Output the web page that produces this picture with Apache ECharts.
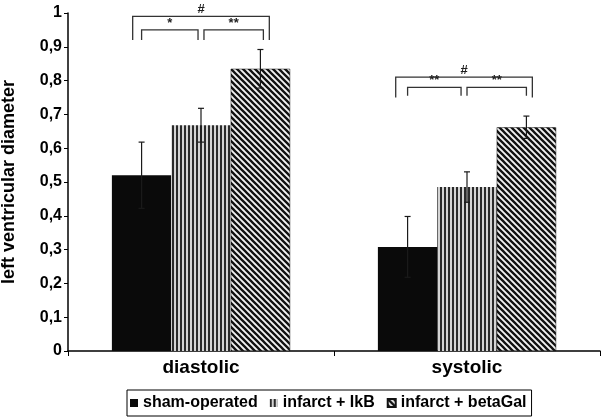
<!DOCTYPE html>
<html>
<head>
<meta charset="utf-8">
<script src="https://cdn.jsdelivr.net/npm/echarts@6/dist/echarts.min.js"></script>
<style>
  html, body { margin: 0; padding: 0; background: #fff; }
  #main { width: 603px; height: 418px; }
</style>
</head>
<body>
<div id="main"></div>
<script>
// 数据
var categories = ['diastolic', 'systolic'];
var groupNames = ['sham-operated', 'infarct + IkB', 'infarct + betaGal'];
var shamValues = [0.52, 0.308];
var shamErrors = [0.098, 0.09];
var ikbValues = [0.668, 0.485];
var ikbErrors = [0.05, 0.045];
var betagalValues = [0.835, 0.662];
var betagalErrors = [0.057, 0.033];

// 显著性标记: [类别, 高度, 起始柱, 结束柱, 标签, 腿长]
var brackets = [
  [0, 0.99, -0.15, 2.15, '#', 0.07],
  [0, 0.95, 0.0, 0.95, '*', 0.03],
  [0, 0.95, 1.05, 2.05, '**', 0.03],
  [1, 0.81, -0.2, 2.1, '#', 0.06],
  [1, 0.78, 0.0, 0.9, '**', 0.025],
  [1, 0.78, 1.0, 2.0, '**', 0.025]
];

var GAP = 0.33;
var FONT = 'Liberation Sans, Arial, sans-serif';

// 填充图案
function makeVertical() {
  var c = document.createElement('canvas');
  c.width = 4; c.height = 4;
  var ctx = c.getContext('2d');
  ctx.fillStyle = '#d4d4d4';
  ctx.fillRect(0, 0, 4, 4);
  ctx.fillStyle = '#2a2a2a';
  ctx.fillRect(0, 0, 2, 4);
  return c;
}
function makeDiagonal() {
  var s = 6;
  var c = document.createElement('canvas');
  c.width = s; c.height = s;
  var ctx = c.getContext('2d');
  ctx.fillStyle = '#f2f2f2';
  ctx.fillRect(0, 0, s, s);
  ctx.strokeStyle = '#111';
  ctx.lineWidth = 2.3;
  ctx.beginPath();
  ctx.moveTo(-s, 0); ctx.lineTo(s, 2 * s);
  ctx.moveTo(0, 0); ctx.lineTo(s, s);
  ctx.moveTo(0, -s); ctx.lineTo(2 * s, s);
  ctx.stroke();
  return c;
}
var vertPattern = { image: makeVertical(), repeat: 'repeat' };
var diagPattern = { image: makeDiagonal(), repeat: 'repeat' };

var allValues = [shamValues, ikbValues, betagalValues];
var allErrors = [shamErrors, ikbErrors, betagalErrors];

var errData = [];
for (var g = 0; g < 3; g++) {
  for (var i = 0; i < categories.length; i++) {
    errData.push([i, allValues[g][i], allErrors[g][i], g]);
  }
}

function barWidthOf(api) {
  return api.size([1, 0])[0] * (1 - GAP) / 3;
}

var myChart = echarts.init(document.getElementById('main'));

var option = {
  backgroundColor: '#fff',
  animation: false,
  textStyle: { fontFamily: FONT },
  grid: { left: 68, right: 3, top: 13, bottom: 67, containLabel: false, outerBoundsMode: 'none' },
  legend: {
    data: groupNames,
    left: 127,
    bottom: 2,
    itemWidth: 8,
    itemHeight: 8,
    itemGap: 12,
    icon: 'rect',
    padding: [5, 5, 5, 3],
    borderColor: '#000',
    borderWidth: 1,
    textStyle: { fontSize: 16, fontWeight: 'bold', color: '#000', fontFamily: FONT }
  },
  xAxis: {
    type: 'category',
    data: categories,
    axisLine: { lineStyle: { color: '#000', width: 1.5 } },
    axisTick: { show: true, length: 5, lineStyle: { color: '#000' } },
    axisLabel: { fontSize: 19, fontWeight: 'bold', color: '#000', margin: 7 }
  },
  yAxis: {
    type: 'value',
    min: 0,
    max: 1,
    interval: 0.1,
    name: 'left ventricular diameter',
    nameLocation: 'middle',
    nameGap: 50,
    nameTextStyle: { fontSize: 18, fontWeight: 'bold', color: '#000' },
    splitLine: { show: false },
    axisLine: { show: true, lineStyle: { color: '#000', width: 1.5 } },
    axisTick: { show: true, length: 4, lineStyle: { color: '#000' } },
    axisLabel: {
      fontSize: 16, fontWeight: 'bold', color: '#000', margin: 6,
      formatter: function (v) { return String(Math.round(v * 10) / 10).replace('.', ','); }
    }
  },
  series: [
    {
      name: groupNames[0], type: 'bar', data: shamValues,
      barGap: 0, barCategoryGap: '33%',
      itemStyle: { color: '#0a0a0a' }
    },
    {
      name: groupNames[1], type: 'bar', data: ikbValues,
      barGap: 0, barCategoryGap: '33%',
      itemStyle: { color: vertPattern }
    },
    {
      name: groupNames[2], type: 'bar', data: betagalValues,
      barGap: 0, barCategoryGap: '33%',
      itemStyle: { color: diagPattern, borderColor: '#111', borderWidth: 0.5 }
    },
    {
      // 误差线
      type: 'custom',
      silent: true,
      z: 5,
      data: errData,
      renderItem: function (params, api) {
        var cat = api.value(0), val = api.value(1), err = api.value(2), g = api.value(3);
        var bw = barWidthOf(api);
        var center = api.coord([cat, val]);
        var x = center[0] + (g - 1) * bw;
        var top = api.coord([cat, val + err])[1];
        var bot = api.coord([cat, val - err])[1];
        var cap = 3;
        var st = { stroke: '#1a1a1a', lineWidth: 1.2 };
        return {
          type: 'group',
          children: [
            { type: 'line', shape: { x1: x, y1: top, x2: x, y2: bot }, style: st },
            { type: 'line', shape: { x1: x - cap, y1: top, x2: x + cap, y2: top }, style: st },
            { type: 'line', shape: { x1: x - cap, y1: bot, x2: x + cap, y2: bot }, style: st }
          ]
        };
      }
    },
    {
      // 显著性括号
      type: 'custom',
      silent: true,
      z: 6,
      data: brackets,
      renderItem: function (params, api) {
        var b = brackets[params.dataIndex];
        var bw = barWidthOf(api);
        var c = api.coord([b[0], b[1]]);
        var yLeg = api.coord([b[0], b[1] - b[5]])[1];
        var x1 = c[0] + (b[2] - 1) * bw;
        var x2 = c[0] + (b[3] - 1) * bw;
        var y = c[1];
        var st = { stroke: '#333', lineWidth: 1.3, fill: null };
        return {
          type: 'group',
          children: [
            { type: 'polyline', shape: { points: [[x1, yLeg], [x1, y], [x2, y], [x2, yLeg]] }, style: st },
            { type: 'text', style: {
                text: b[4], x: (x1 + x2) / 2, y: y,
                align: 'center', verticalAlign: 'bottom',
                fill: '#222', font: 'bold 13px ' + FONT
            } }
          ]
        };
      }
    }
  ]
};

myChart.setOption(option);
</script>
</body>
</html>
